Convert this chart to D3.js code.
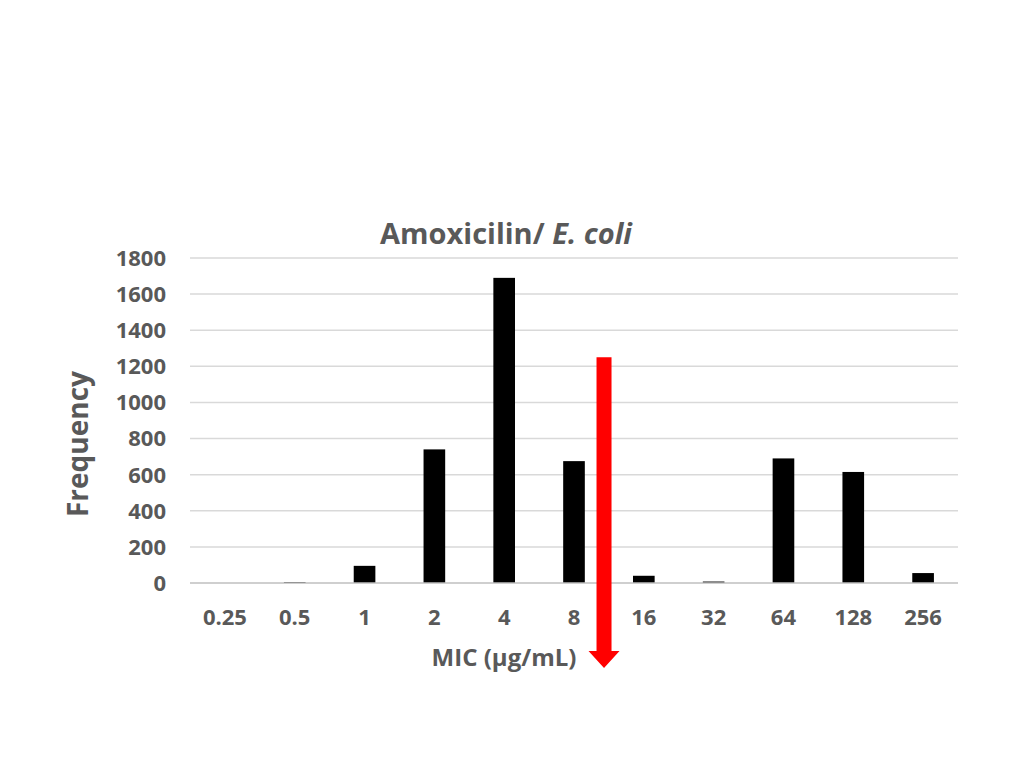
<!DOCTYPE html>
<html>
<head>
<meta charset="utf-8">
<script src="https://cdn.jsdelivr.net/npm/d3@7"></script>
<style>
  body { margin: 0; background: #fff; }
  text { font-family: "Open Sans", sans-serif; font-weight: bold; fill: #595959; }
</style>
</head>
<body>
<svg id="chart" width="1024" height="768"></svg>
<script>
// data
const mics = ["0.25", "0.5", "1", "2", "4", "8", "16", "32", "64", "128", "256"];
const freqs = [0, 5, 95, 740, 1690, 675, 40, 8, 690, 615, 55];
const yTicks = [0, 200, 400, 600, 800, 1000, 1200, 1400, 1600, 1800];
const breakpoint = { after: "8", top: 1250 }; // red arrow

const svg = d3.select("#chart");
const plotL = 190, plotR = 958, plotT = 258, plotB = 583;

const x = d3.scaleBand().domain(mics).range([plotL, plotR]).paddingInner(0.69).paddingOuter(0.345);
const y = d3.scaleLinear().domain([0, 1800]).range([plotB, plotT]);

// gridlines
svg.append("g").selectAll("line")
    .data(yTicks.filter(d => d > 0))
    .enter()
    .append("line")
    .attr("x1", plotL).attr("x2", plotR)
    .attr("y1", d => y(d)).attr("y2", d => y(d))
    .style("stroke", "#d9d9d9")
    .style("stroke-width", 1.5);

// bars
svg.append("g").selectAll("rect")
    .data(mics)
    .enter()
    .append("rect")
    .attr("x", d => x(d))
    .attr("y", (d, i) => y(freqs[i]))
    .attr("width", x.bandwidth())
    .attr("height", (d, i) => plotB - y(freqs[i]))
    .style("fill", "#000");

// baseline
svg.append("line")
    .attr("x1", plotL).attr("x2", plotR)
    .attr("y1", plotB).attr("y2", plotB)
    .style("stroke", "#bfbfbf")
    .style("stroke-width", 1.5);

// y tick labels
svg.append("g").selectAll("text")
    .data(yTicks)
    .enter()
    .append("text")
    .attr("x", 166)
    .attr("y", d => y(d))
    .attr("dy", "0.36em")
    .attr("text-anchor", "end")
    .style("font-size", "22px")
    .text(d => d);

// x tick labels
svg.append("g").selectAll("text")
    .data(mics)
    .enter()
    .append("text")
    .attr("x", d => x(d) + x.bandwidth() / 2)
    .attr("y", 625)
    .attr("text-anchor", "middle")
    .style("font-size", "22px")
    .text(d => d);

// breakpoint arrow, between 8 and 16
const step = x.step();
const ax = x(breakpoint.after) + x.bandwidth() / 2 + step * 0.43;
const shaftW = 15, headW = 31, headH = 17, tipY = 668;
svg.append("path")
    .attr("d", [
        "M", ax - shaftW / 2, y(breakpoint.top),
        "L", ax + shaftW / 2, y(breakpoint.top),
        "L", ax + shaftW / 2, tipY - headH,
        "L", ax + headW / 2, tipY - headH,
        "L", ax, tipY,
        "L", ax - headW / 2, tipY - headH,
        "L", ax - shaftW / 2, tipY - headH,
        "Z"
    ].join(" "))
    .style("fill", "#ff0000");

// title
const title = svg.append("text")
    .attr("x", 506)
    .attr("y", 244)
    .attr("text-anchor", "middle")
    .style("font-size", "29px");
title.append("tspan").text("Amoxicilin/ ");
title.append("tspan").style("font-style", "italic").text("E. coli");

// axis titles
svg.append("text")
    .attr("transform", "translate(88,444) rotate(-90)")
    .attr("text-anchor", "middle")
    .style("font-size", "28px")
    .text("Frequency");

svg.append("text")
    .attr("x", 504)
    .attr("y", 666)
    .attr("text-anchor", "middle")
    .style("font-size", "24px")
    .text("MIC (µg/mL)");
</script>
</body>
</html>
